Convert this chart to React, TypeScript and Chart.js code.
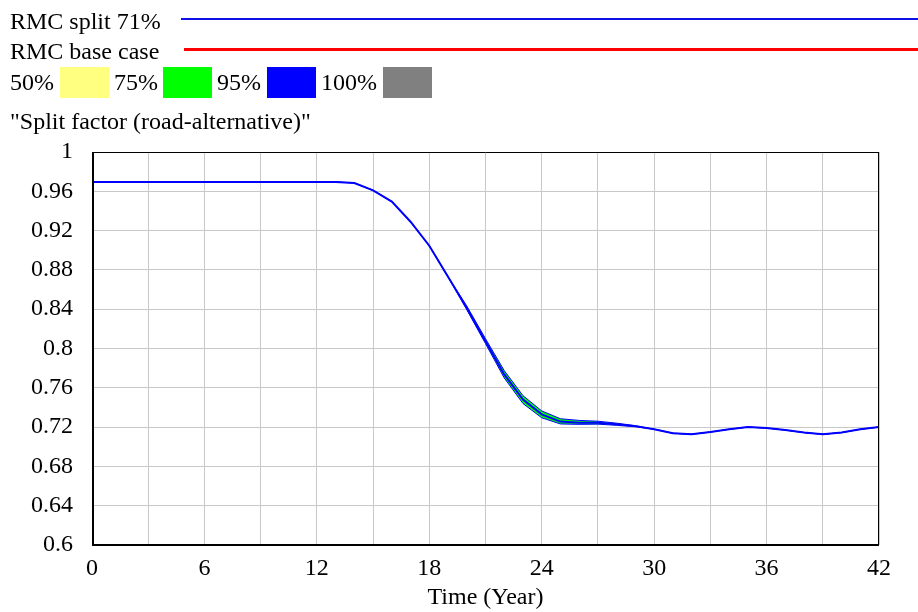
import React, { useEffect, useRef } from "react";
import { Chart, registerables } from "chart.js";

Chart.register(...registerables);

// ---------- data ----------
const TIME = [
  0, 1, 2, 3, 4, 5, 6, 7, 8, 9, 10, 11, 12, 13, 14, 15, 16, 17, 18, 19, 20, 21,
  22, 23, 24, 25, 26, 27, 28, 29, 30, 31, 32, 33, 34, 35, 36, 37, 38, 39, 40, 41, 42,
];

// "RMC split 71%" run (drawn on top)
const RMC_SPLIT_71 = [
  0.9695, 0.9695, 0.9695, 0.9695, 0.9695, 0.9695, 0.9695, 0.9695, 0.9695, 0.9695,
  0.9695, 0.9695, 0.9695, 0.9695, 0.9685, 0.961, 0.9495, 0.929, 0.9046, 0.873,
  0.8413, 0.8074, 0.7736, 0.748, 0.733, 0.7256, 0.7245, 0.7244, 0.7228, 0.721,
  0.7178, 0.7138, 0.7127, 0.715, 0.7178, 0.72, 0.719, 0.717, 0.7144, 0.7127,
  0.7144, 0.7178, 0.72,
];

// Sensitivity band envelope (upper / lower)
const BAND_HIGH = [
  0.9695, 0.9695, 0.9695, 0.9695, 0.9695, 0.9695, 0.9695, 0.9695, 0.9695, 0.9695,
  0.9695, 0.9695, 0.9695, 0.9695, 0.9685, 0.961, 0.9495, 0.929, 0.9046, 0.873,
  0.8433, 0.81, 0.7775, 0.752, 0.7365, 0.7285, 0.7268, 0.726, 0.724, 0.7215,
  0.7178, 0.7138, 0.7127, 0.715, 0.7178, 0.72, 0.719, 0.717, 0.7144, 0.7127,
  0.7144, 0.7178, 0.72,
];
const BAND_LOW = [
  0.9695, 0.9695, 0.9695, 0.9695, 0.9695, 0.9695, 0.9695, 0.9695, 0.9695, 0.9695,
  0.9695, 0.9695, 0.9695, 0.9695, 0.9685, 0.961, 0.9495, 0.929, 0.9046, 0.873,
  0.8395, 0.805, 0.77, 0.744, 0.7295, 0.7232, 0.7228, 0.723, 0.7218, 0.7203,
  0.7178, 0.7138, 0.7127, 0.715, 0.7178, 0.72, 0.719, 0.717, 0.7144, 0.7127,
  0.7144, 0.7178, 0.72,
];

const LINE_LEGEND = ["RMC split 71%", "RMC base case"];
const BAND_LEGEND = ["50%", "75%", "95%", "100%"];
const Y_TITLE = '"Split factor (road-alternative)"';
const X_TITLE = "Time (Year)";
const Y_MIN = 0.6;
const Y_MAX = 1;
const Y_STEP = 0.04;
const X_MIN = 0;
const X_MAX = 42;
const X_GRID_STEP = 3;
const X_LABEL_STEP = 6;

// ---------- styles ----------
const FONT = "'Liberation Serif', 'Times New Roman', serif";
const GRID = "#c8c8c8";

const framePlugin = {
  id: "frame",
  afterDraw(chart: any) {
    const { ctx, chartArea } = chart;
    const { left, right, top, bottom } = chartArea;
    ctx.save();
    ctx.strokeStyle = "#000";
    ctx.lineWidth = 1;
    ctx.beginPath();
    ctx.moveTo(left, top + 0.5);
    ctx.lineTo(right, top + 0.5);
    ctx.moveTo(right - 0.5, top);
    ctx.lineTo(right - 0.5, bottom);
    ctx.stroke();
    ctx.lineWidth = 2;
    ctx.beginPath();
    ctx.moveTo(left + 1, top);
    ctx.lineTo(left + 1, bottom + 1);
    ctx.moveTo(left, bottom);
    ctx.lineTo(right, bottom);
    ctx.stroke();
    ctx.restore();
  },
};

const txt = (left: number, top: number): React.CSSProperties => ({
  position: "absolute",
  left,
  top,
  fontFamily: FONT,
  fontSize: 24,
  lineHeight: "24px",
  whiteSpace: "nowrap",
  color: "#000",
});

const box = (left: number, color: string): React.CSSProperties => ({
  position: "absolute",
  left,
  top: 67,
  width: 49,
  height: 31,
  background: color,
});

export default function App() {
  const canvasRef = useRef<HTMLCanvasElement | null>(null);

  useEffect(() => {
    const canvas = canvasRef.current;
    if (!canvas) return;
    const toXY = (arr: number[]) => TIME.map((t, i) => ({ x: t, y: arr[i] }));
    const chart = new Chart(canvas, {
      type: "line",
      data: {
        datasets: [
          {
            label: LINE_LEGEND[0],
            data: toXY(RMC_SPLIT_71),
            borderColor: "#0000ff",
            borderWidth: 2,
            pointRadius: 0,
            tension: 0,
            fill: false,
            order: 0,
          },
          {
            label: "band high",
            data: toXY(BAND_HIGH),
            borderColor: "#0000ff",
            borderWidth: 1,
            pointRadius: 0,
            tension: 0,
            fill: false,
            order: 1,
          },
          {
            label: "band low",
            data: toXY(BAND_LOW),
            borderColor: "#0000ff",
            borderWidth: 1,
            backgroundColor: "#00ff00",
            pointRadius: 0,
            tension: 0,
            fill: 1,
            order: 2,
          },
        ],
      },
      options: {
        animation: false,
        responsive: false,
        maintainAspectRatio: false,
        devicePixelRatio: 1,
        layout: { padding: { top: 152, right: 39, left: 0, bottom: 0 } },
        plugins: {
          legend: { display: false },
          tooltip: { enabled: false },
        },
        scales: {
          x: {
            type: "linear",
            min: X_MIN,
            max: X_MAX,
            grid: { color: GRID, lineWidth: 1, drawTicks: false },
            border: { display: false },
            ticks: {
              stepSize: X_GRID_STEP,
              autoSkip: false,
              maxRotation: 0,
              padding: 9,
              color: "#000",
              font: { family: FONT, size: 24 },
              callback: (v: any) => (Number(v) % X_LABEL_STEP === 0 ? String(v) : ""),
            },
            title: {
              display: true,
              text: X_TITLE,
              color: "#000",
              font: { family: FONT, size: 24 },
              padding: { top: 0, bottom: 0 },
            },
            afterFit: (s: any) => {
              s.height = 67;
            },
          },
          y: {
            min: Y_MIN,
            max: Y_MAX,
            grid: { color: GRID, lineWidth: 1, drawTicks: false },
            border: { display: false },
            ticks: {
              stepSize: Y_STEP,
              padding: 19,
              color: "#000",
              font: { family: FONT, size: 24 },
              callback: (v: any) => String(Number(Number(v).toFixed(2))),
            },
            afterFit: (s: any) => {
              s.width = 92;
            },
          },
        },
      },
      plugins: [framePlugin],
    });
    return () => chart.destroy();
  }, []);

  return (
    <div
      style={{
        position: "absolute",
        left: 0,
        top: 0,
        width: 918,
        height: 612,
        background: "#fff",
        overflow: "hidden",
      }}
    >
      <canvas
        ref={canvasRef}
        width={918}
        height={612}
        style={{ position: "absolute", left: 0, top: 0, width: 918, height: 612, display: "block" }}
      />
      <div style={txt(10, 9)}>{LINE_LEGEND[0]}</div>
      <div style={{ position: "absolute", left: 181, top: 18, width: 737, height: 2, background: "#1010e8" }} />
      <div style={txt(10, 39)}>{LINE_LEGEND[1]}</div>
      <div style={{ position: "absolute", left: 184, top: 48, width: 734, height: 3, background: "#ff0000" }} />
      <div style={txt(10, 70)}>{BAND_LEGEND[0]}</div>
      <div style={box(60, "#ffff80")} />
      <div style={txt(114, 70)}>{BAND_LEGEND[1]}</div>
      <div style={box(163, "#00ff00")} />
      <div style={txt(217, 70)}>{BAND_LEGEND[2]}</div>
      <div style={box(267, "#0000ff")} />
      <div style={txt(321, 70)}>{BAND_LEGEND[3]}</div>
      <div style={box(383, "#808080")} />
      <div style={txt(10, 109)}>{Y_TITLE}</div>
    </div>
  );
}
